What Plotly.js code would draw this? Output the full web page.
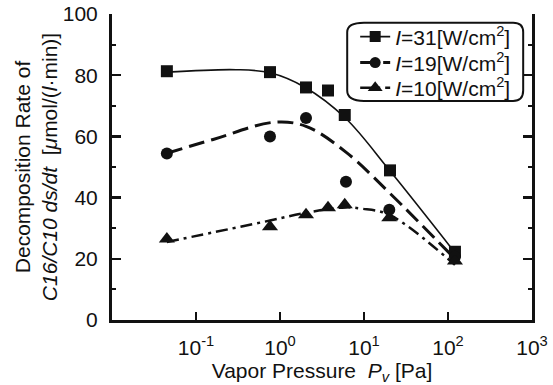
<!DOCTYPE html>
<html><head><meta charset="utf-8">
<script src="https://cdn.plot.ly/plotly-3.0.1.min.js"></script>
<style>html,body{margin:0;padding:0;background:#fff}#chart{width:553px;height:385px}</style>
</head><body><div id="chart"></div>
<script>
// measured points
const pressure31 = [0.045, 0.76, 2.04, 3.73, 5.9, 20.4, 121];
const rate31 = [81.3, 81.0, 76.0, 75.0, 67.0, 48.9, 22.3];
const pressure19 = [0.045, 0.76, 2.04, 6.1, 20.0, 121];
const rate19 = [54.4, 60.0, 66.0, 45.2, 36.0, 20.7];
const pressure10 = [0.045, 0.76, 2.04, 3.73, 5.9, 20.0, 121];
const rate10 = [26.5, 30.5, 34.4, 36.7, 37.7, 33.4, 19.3];
// fitted curves
const curveX31 = [0.045, 0.3, 0.76, 2.0, 6.0, 20.0, 121];
const curveY31 = [81.0, 81.8, 80.8, 76.0, 66.0, 49.0, 22.0];
const curveX19 = [0.045, 0.16, 0.84, 2.04, 6.2, 20.0, 121];
const curveY19 = [54.5, 59.0, 64.6, 63.3, 54.7, 41.6, 20.0];
const curveX10 = [0.045, 0.76, 2.0, 6.0, 9.3, 20.0, 121];
const curveY10 = [25.5, 32.5, 35.0, 36.8, 36.4, 34.4, 18.0];
const legendNames = ['<i>I</i>=31[W/cm<sup>2</sup>]', '<i>I</i>=19[W/cm<sup>2</sup>]', '<i>I</i>=10[W/cm<sup>2</sup>]'];
const xTickVals = [0.1, 1, 10, 100, 1000];
const xTickText = ['10<sup>-1</sup>', '10<sup>0</sup>', '10<sup>1</sup>', '10<sup>2</sup>', '10<sup>3</sup>'];
const yTickVals = [0, 20, 40, 60, 80, 100];

const black = '#111';
const styles = [
  {dash: 'solid', width: 1.6, symbol: 'square', size: 12},
  {dash: '16px,7px', width: 3, symbol: 'circle', size: 12},
  {dash: '12px,5px,3px,5px', width: 2.5, symbol: 'triangle-up', size: 14}
];
const legendIds = ['legend', 'legend2', 'legend3'];
const curves = [[curveX31, curveY31], [curveX19, curveY19], [curveX10, curveY10]];
const pts = [[pressure31, rate31], [pressure19, rate19], [pressure10, rate10]];
const traces = [];
curves.forEach((c, i) => traces.push({x: c[0], y: c[1], mode: 'lines', type: 'scatter', showlegend: false,
  line: {color: black, width: styles[i].width, dash: styles[i].dash, shape: 'spline', smoothing: 1}, hoverinfo: 'skip'}));
pts.forEach((p, i) => traces.push({x: p[0], y: p[1], mode: 'markers', type: 'scatter', showlegend: false,
  marker: {color: black, symbol: styles[i].symbol, size: styles[i].size}}));
legendNames.forEach((n, i) => traces.push({x: [null], y: [null], mode: 'lines+markers', type: 'scatter', name: n,
  legend: legendIds[i], showlegend: true,
  line: {color: black, width: styles[i].width, dash: styles[i].dash},
  marker: {color: black, symbol: styles[i].symbol, size: styles[i].size - 1}}));

const font = {family: '"Liberation Sans", Arial, sans-serif', size: 21, color: black};
const legendRowY = [0.925, 0.840, 0.758];
function legendBox(y) {
  return {x: 0.579, y: y, xanchor: 'left', yanchor: 'middle', bgcolor: 'rgba(255,255,255,0)',
    borderwidth: 0, font: {size: 21}, itemwidth: 30};
}
const layout = {
  width: 553, height: 385,
  margin: {l: 112, r: 21, t: 14, b: 65},
  paper_bgcolor: '#fff', plot_bgcolor: '#fff',
  font: font,
  xaxis: {type: 'log', range: [-2, 3], tickvals: xTickVals, ticktext: xTickText,
    ticks: 'inside', ticklen: 8, tickwidth: 2.5, tickcolor: black,
    showline: true, linewidth: 3, linecolor: black, showgrid: false, zeroline: false,
    tickfont: {size: 21}, ticklabelstandoff: 7,
    title: {text: 'Vapor Pressure  <i>P<sub>v</sub></i> [Pa]', font: {size: 21}, standoff: 12}},
  yaxis: {range: [0, 100], tickvals: yTickVals, ticks: 'inside', ticklen: 9, tickwidth: 2.5, tickcolor: black,
    minor: {dtick: 10, ticks: 'inside', ticklen: 4, tickwidth: 2, tickcolor: black, showgrid: false},
    showline: true, linewidth: 3, linecolor: black, mirror: 'ticks', showgrid: false, zeroline: false,
    tickfont: {size: 21}, ticklabelstandoff: 7,
    title: {text: 'Decomposition Rate of<br><i>C16/C10 ds/dt</i>  [<i>μ</i>mol/(<i>l</i>·min)]', font: {size: 21}, standoff: 0}},
  legend: legendBox(legendRowY[0]),
  legend2: legendBox(legendRowY[1]),
  legend3: legendBox(legendRowY[2]),
  shapes: [{type: 'path', xref: 'paper', yref: 'paper',
    path: 'M 0.6 0.971 L 0.955 0.971 Q 0.979 0.971 0.979 0.94 L 0.979 0.75 Q 0.979 0.716 0.955 0.716 L 0.6 0.716 Q 0.56 0.716 0.56 0.75 L 0.56 0.94 Q 0.56 0.971 0.6 0.971 Z',
    line: {color: black, width: 2}, fillcolor: 'rgba(0,0,0,0)'}],
  showlegend: true
};
Plotly.newPlot('chart', traces, layout, {displayModeBar: false, staticPlot: true});
</script></body></html>
